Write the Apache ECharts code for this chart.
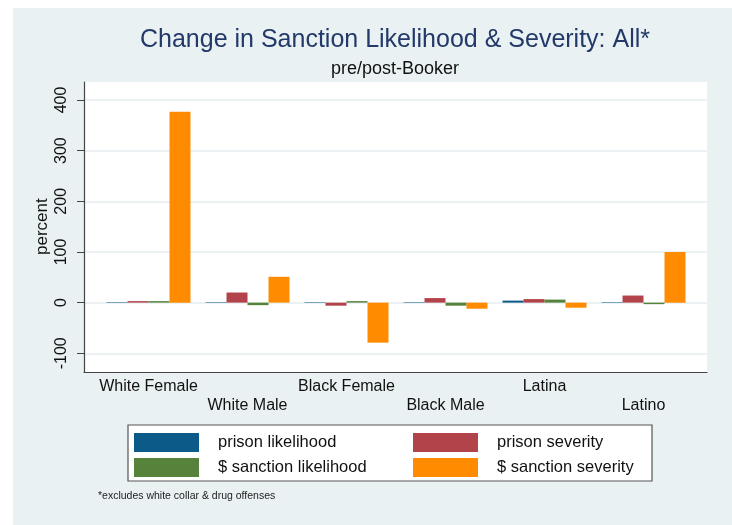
<!DOCTYPE html>
<html>
<head>
<meta charset="utf-8">
<script src="https://cdn.jsdelivr.net/npm/echarts@6/dist/echarts.min.js"></script>
<style>
  html, body { margin: 0; padding: 0; background: #fff; }
  #chart { width: 732px; height: 525px; }
</style>
</head>
<body>
<div id="chart"></div>
<script>
// categories and values (percent change pre/post-Booker)
var groups = ['White Female', 'White Male', 'Black Female', 'Black Male', 'Latina', 'Latino'];
var prisonLikelihood = [1, 1, 1, 1, 4, 1];
var prisonSeverity = [3, 20, -6, 9, 7, 14];
var sanctionLikelihood = [3, -5, 3, -6, 6, -3];
var sanctionSeverity = [377, 51, -79, -12, -10, 100];
var yTicks = [-100, 0, 100, 200, 300, 400];

var font = 'Liberation Sans';
var colors = ['#0b5a87', '#b2434a', '#56823b', '#ff8c00'];
var yMin = yTicks[0];
var yMax = yTicks[yTicks.length - 1];
var yStep = yTicks[1] - yTicks[0];

function barSeries(name, data, color) {
  return {
    name: name,
    type: 'bar',
    xAxisIndex: 2,
    yAxisIndex: 2,
    data: data,
    barWidth: 21,
    barGap: '0%',
    itemStyle: { color: color },
    emphasis: { disabled: true }
  };
}

function legendCol(items, left) {
  return {
    data: items,
    orient: 'vertical',
    left: left,
    top: 433,
    padding: 0,
    itemWidth: 65,
    itemHeight: 19,
    itemGap: 6,
    icon: 'rect',
    selectedMode: false,
    textStyle: { fontFamily: font, fontSize: 16.5, color: '#111', padding: [0, 0, 0, 14] }
  };
}

var chart = echarts.init(document.getElementById('chart'));
chart.setOption({
  animation: false,
  backgroundColor: '#e9f1f2',
  color: colors,
  textStyle: { fontFamily: font },
  title: [
    {
      text: 'Change in Sanction Likelihood & Severity: All*',
      left: 395, top: 28, textAlign: 'center', padding: 0,
      textStyle: { fontFamily: font, fontSize: 25, fontWeight: 'normal', color: '#22396a' }
    },
    {
      text: 'pre/post-Booker',
      left: 395, top: 60, textAlign: 'center', padding: 0,
      textStyle: { fontFamily: font, fontSize: 18, fontWeight: 'normal', color: '#111' }
    },
    {
      text: '*excludes white collar & drug offenses',
      left: 98, top: 491, padding: 0,
      textStyle: { fontFamily: font, fontSize: 10.5, fontWeight: 'normal', color: '#222' }
    }
  ],
  graphic: [
    { type: 'rect', shape: { x: 0, y: 0, width: 13, height: 525 }, style: { fill: '#fff' }, silent: true },
    { type: 'rect', shape: { x: 0, y: 0, width: 732, height: 8 }, style: { fill: '#fff' }, silent: true },
    { type: 'rect', shape: { x: 128, y: 425, width: 524, height: 56 }, style: { fill: '#fff', stroke: '#555', lineWidth: 1.2 }, silent: true }
  ],
  legend: [
    legendCol(['prison likelihood', '$ sanction likelihood'], 134),
    legendCol(['prison severity', '$ sanction severity'], 413)
  ],
  grid: [
    // plot region (white) with the L-shaped axis lines
    { left: 84, top: 82, width: 623, height: 290, show: true, backgroundColor: '#fff', borderWidth: 0 },
    // tick / gridline frame
    { left: 84, top: 100, width: 623, height: 253.3 },
    // bars
    { left: 99, top: 100, width: 594, height: 253.3 }
  ],
  xAxis: [
    {
      gridIndex: 0, type: 'value', min: 0, max: 1,
      axisLine: { show: true, onZero: false, lineStyle: { color: '#444', width: 1.2 } },
      axisTick: { show: false }, axisLabel: { show: false }, splitLine: { show: false }
    },
    { gridIndex: 1, type: 'value', min: 0, max: 1, show: false },
    {
      gridIndex: 2, type: 'category', data: groups,
      axisLine: { show: false, onZero: false },
      axisTick: { show: false },
      axisLabel: {
        interval: 0, margin: 24, fontSize: 16, lineHeight: 19, color: '#111',
        formatter: function (v, i) { return i % 2 ? '\n' + v : v; }
      }
    }
  ],
  yAxis: [
    {
      gridIndex: 0, type: 'value', min: 0, max: 1,
      axisLine: { show: true, onZero: false, lineStyle: { color: '#444', width: 1.2 } },
      axisTick: { show: false }, axisLabel: { show: false }, splitLine: { show: false }
    },
    {
      gridIndex: 1, type: 'value', min: yMin, max: yMax, interval: yStep,
      name: 'percent', nameLocation: 'middle', nameGap: 33, nameMoveOverlap: false,
      nameTextStyle: { fontSize: 17, color: '#111' },
      axisLine: { show: false },
      axisTick: { show: true, length: 7, lineStyle: { color: '#444' } },
      axisLabel: { rotate: 90, margin: 14, fontSize: 16, color: '#111' },
      splitLine: { show: true, lineStyle: { color: '#e6eef0', width: 1.5 } }
    },
    { gridIndex: 2, type: 'value', min: yMin, max: yMax, show: false }
  ],
  series: [
    barSeries('prison likelihood', prisonLikelihood, colors[0]),
    barSeries('prison severity', prisonSeverity, colors[1]),
    barSeries('$ sanction likelihood', sanctionLikelihood, colors[2]),
    barSeries('$ sanction severity', sanctionSeverity, colors[3])
  ]
});
</script>
</body>
</html>
